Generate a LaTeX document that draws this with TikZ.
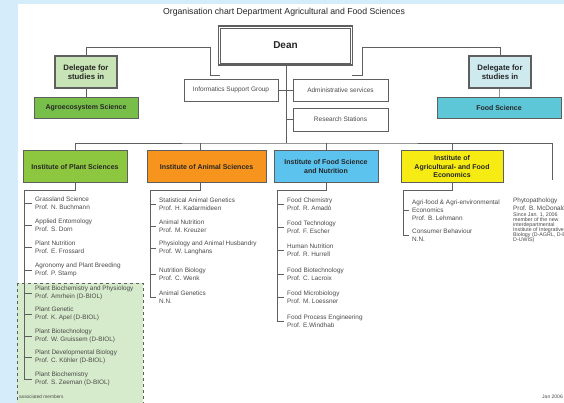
\documentclass[tikz,border=0pt]{standalone}
\usepackage{fontspec}
\setmainfont{Liberation Sans}
\usetikzlibrary{positioning}
\definecolor{pageblue}{HTML}{D5EDFB}
\definecolor{linegray}{HTML}{5F5F5F}
\definecolor{textgray}{HTML}{4A4A4A}
\definecolor{plantgreen}{HTML}{8DC63F}
\definecolor{agrogreen}{HTML}{78BF4A}
\definecolor{palegreen}{HTML}{C8E3B5}
\definecolor{assocgreen}{HTML}{D6EBCB}
\definecolor{animalorange}{HTML}{F7941D}
\definecolor{nutriblue}{HTML}{5BC3EE}
\definecolor{econyellow}{HTML}{F6EC13}
\definecolor{foodteal}{HTML}{5DC7D8}
\definecolor{paleteal}{HTML}{CFEAEF}
\tikzset{
    unit/.style = {draw=linegray, 
                   line width=0.8pt, 
                   rectangle, 
                   align=center, 
                   inner sep=1pt,
                   font=\fontsize{7}{8.5}\selectfont\bfseries,
                   text=black!85
    },
    delegate/.style = {unit, 
                       line width=1.4pt, 
                       minimum width=62pt, 
                       minimum height=32pt,
                       font=\fontsize{7.8}{8.6}\selectfont\bfseries
    },
    staff/.style = {draw=linegray, 
                    line width=0.5pt, 
                    rectangle, 
                    minimum height=22pt,
                    font=\fontsize{6.5}{8}\selectfont,
                    text=textgray
    },
    member/.style = {anchor=west, 
                     align=left, 
                     inner sep=0pt,
                     font=\fontsize{6.4}{8}\selectfont,
                     text=textgray
    },
    link/.style = {draw=linegray, line width=0.5pt}
}
\begin{document}
\begin{tikzpicture}[x=1pt, y=-1pt]
    \useasboundingbox (0,0) rectangle (564,403);
    \clip (0,0) rectangle (564,403);
    \fill[pageblue] (0,0) rectangle (564,403);
    \fill[white] (18,4) rectangle (564,403);

    \node[font=\fontsize{8.7}{10}\selectfont, text=black!85] (title) at (284,12) {Organisation chart Department Agricultural and Food Sciences};

    % top level
    \node[unit, line width=1.6pt, minimum width=134pt, minimum height=39pt, font=\fontsize{10}{12}\selectfont\bfseries] (dean) at (285.5,45.5) {Dean};
    \draw[linegray, line width=0.5pt] ([shift={(2.6pt,-2.6pt)}]dean.north west) rectangle ([shift={(-2.6pt,2.6pt)}]dean.south east);
    \node[delegate, fill=palegreen]   (agrodel)  at (86,72)  {Delegate for\\studies in};
    \node[unit, fill=agrogreen, minimum width=104pt, minimum height=21pt] (agro) at (86,108) {Agroecosystem Science};
    \node[delegate, fill=paleteal]    (fooddel)  at (500,72) {Delegate for\\studies in};
    \node[unit, fill=foodteal, minimum width=124pt, minimum height=21pt] (foodsci) at (499,108) {Food Science};

    \node[staff, minimum width=94pt]                      (info)     at (231,90)      {Informatics Support Group};
    \node[staff, minimum width=95pt]                      (admin)    at (340.5,90)    {Administrative services};
    \node[staff, minimum width=95pt, minimum height=23pt] (stations) at (340.5,119.5) {Research Stations};

    % institutes
    \node[unit, fill=plantgreen,   minimum width=104pt, minimum height=32pt] (plant)  at (75,166.5)    {Institute of Plant Sciences};
    \node[unit, fill=animalorange, minimum width=119pt, minimum height=32pt] (animal) at (206.5,166.5) {Institute of Animal Sciences};
    \node[unit, fill=nutriblue,    minimum width=104pt, minimum height=32pt] (nutri)  at (326,166.5)   {Institute of Food Science\\and Nutrition};
    \node[unit, fill=econyellow,   minimum width=102pt, minimum height=32pt] (econ)   at (452,166.5)   {Institute of\\Agricultural- and Food\\Economics};

    \coordinate (hub)      at (286,143);
    \coordinate (phyto)    at (552,180);
    \coordinate (agrobend) at (210,47);
    \coordinate (agroend)  at (220,75);
    \coordinate (foodbend) at (362,47);
    \coordinate (foodend)  at (352,75);

    \draw[link] (dean.south -| hub) -- (hub);
    \draw[link] (info) -- (admin);
    \draw[link] (stations.west) -- (stations.west -| hub);
    \draw[link] (agrodel.north) |- (agrobend) |- (agroend);
    \draw[link] (agrodel) -- (agro);
    \draw[link] (fooddel.north) |- (foodbend) |- (foodend);
    \draw[link] (fooddel) -- (foodsci);

    \draw[link] (plant.north) |- (hub) -| (phyto);
    \draw[link] ([xshift=-6.5pt]animal.north) -- ([xshift=-6.5pt]animal.north |- hub);
    \draw[link] (nutri.north) -- (nutri.north |- hub);
    \draw[link] (econ.north) -- (econ.north |- hub);

    % associated members
    \draw[linegray, dashed, fill=assocgreen, line width=0.6pt] (17,283) rectangle (143,410);
    \node[anchor=west, inner sep=0pt, font=\fontsize{4.8}{6}\selectfont, text=textgray] (assoc) at (19,397) {associated members};

    % plant sciences
    \draw[link] (plant.south) -- ++(0,7.5) -| (24,379);
    \foreach \y/\txt in {203/{Grassland Science\\Prof. N. Buchmann},
                         225/{Applied Entomology\\Prof. S. Dorn},
                         247/{Plant Nutrition\\Prof. E. Frossard},
                         270/{Agronomy and  Plant Breeding\\Prof. P. Stamp},
                         293/{Plant Biochemistry and Physiology\\Prof. Amrhein (D-BIOL)},
                         314/{Plant Genetic\\Prof. K. Apel (D-BIOL)},
                         336/{Plant Biotechnology\\Prof. W. Gruissem (D-BIOL)},
                         357/{Plant Developmental Biology\\Prof. C. K\"ohler (D-BIOL)},
                         379/{Plant Biochemistry\\Prof. S. Zeeman (D-BIOL)}} {
        \node[member] (plant\y) at (35,\y) {\txt};
        \draw[link] (24,\y) -- ([xshift=-3pt]plant\y.west);
    }

    % animal sciences
    \draw[link] ([xshift=-6.5pt]animal.south) -- ++(0,7.5) -| (150,297);
    \foreach \y/\txt in {204/{Statistical Animal Genetics\\Prof. H. Kadarmideen},
                         226/{Animal Nutrition\\Prof. M. Kreuzer},
                         248/{Physiology and Animal Husbandry\\Prof. W. Langhans},
                         274/{Nutrition Biology\\Prof. C. Wenk},
                         297/{Animal Genetics\\N.N.}} {
        \node[member] (animal\y) at (159,\y) {\txt};
        \draw[link] (150,\y) -- ([xshift=-3pt]animal\y.west);
    }

    % food science and nutrition
    \draw[link] (nutri.south) -- ++(0,7.5) -| (277,321);
    \foreach \y/\txt in {204/{Food Chemistry\\Prof. R. Amad\`o},
                         227/{Food Technology\\Prof. F. Escher},
                         250/{Human Nutrition\\Prof. R. Hurrell},
                         274/{Food Biotechnology\\Prof. C. Lacroix},
                         297/{Food Microbiology\\Prof. M. Loessner},
                         321/{Food Process Engineering\\Prof. E.Windhab}} {
        \node[member] (nutri\y) at (287,\y) {\txt};
        \draw[link] (277,\y) -- ([xshift=-3pt]nutri\y.west);
    }

    % economics
    \draw[link] (econ.south) -- ++(0,7.5) -| (403,235);
    \foreach \y/\txt in {210/{Agri-food \& Agri-environmental\\Economics\\Prof. B. Lehmann},
                         235/{Consumer Behaviour\\N.N.}} {
        \node[member] (econ\y) at (412,\y) {\txt};
        \draw[link] (403,\y) -- ([xshift=-3pt]econ\y.west);
    }

    % phytopathology
    \node[member] (phytopath) at (513,204) {Phytopathology\\Prof. B. McDonald};
    \node[member, anchor=north west, font=\fontsize{5.3}{5.1}\selectfont] (phytonote) at (513,212) {Since Jan. 1, 2006\\member of the new\\interdepartmental\\Institute of Integrative\\Biology (D-AGRL, D-BIOL,\\D-UWIS)};

    \node[anchor=east, inner sep=0pt, font=\fontsize{5}{6}\selectfont, text=textgray] (date) at (563,397) {Jan 2006};
\end{tikzpicture}
\end{document}
